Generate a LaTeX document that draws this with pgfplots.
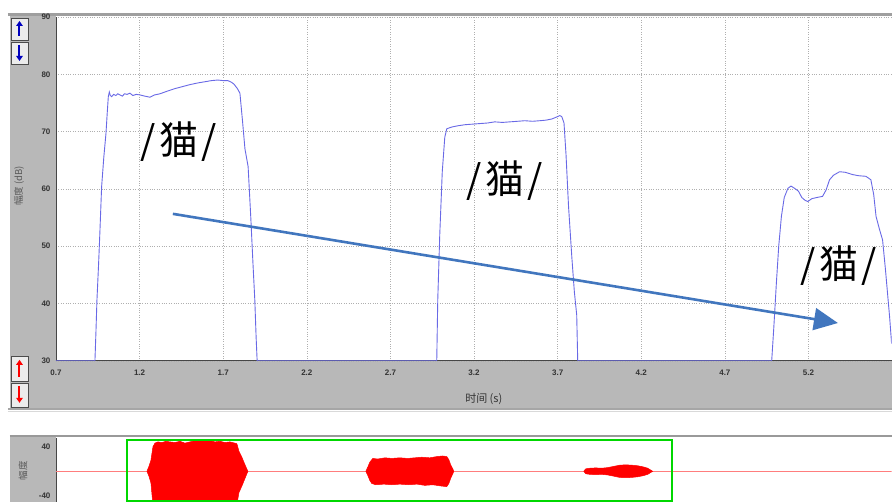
\documentclass[border=0pt]{standalone}
\usepackage{fontspec}
\setmainfont{Liberation Sans}
\newfontfamily\cjk{Noto Sans CJK SC}
\usepackage{pgfplots}
\pgfplotsset{compat=1.18}
\usetikzlibrary{arrows.meta}
\definecolor{panel}{RGB}{184,184,184}
\definecolor{curve}{RGB}{105,105,230}
\definecolor{arrowblue}{RGB}{65,118,190}
\definecolor{wave}{RGB}{255,0,0}
\definecolor{pinkline}{RGB}{255,125,125}
\definecolor{boxgreen}{RGB}{0,215,0}
\definecolor{gridgray}{RGB}{175,175,175}
\newcommand{\cat}{/\hspace{4pt}猫\hspace{3pt}/}
\begin{document}
\begin{tikzpicture}
\begin{scope}[x=1pt,y=1pt]
\useasboundingbox (0,0) rectangle (892,502);
\fill[white] (0,0) rectangle (892,502);
% panels
\fill[panel] (10,92) rectangle (56,488);
\fill[panel] (10,92) rectangle (892,141);
\draw[line width=3pt, gray!75] (8,487.5) -- (892,487.5);
\draw[line width=1.5pt, gray!70] (8,93) -- (892,93);
\draw[line width=1pt, gray!30] (8,90.5) -- (892,90.5);
\fill[panel] (10,0) rectangle (56,67);
\draw[line width=2pt, gray!80] (10,65.5) -- (892,65.5);
% buttons
\filldraw[fill=gray!15, draw=gray!60!black] (11,462) rectangle (28,484);
\draw[blue!75!black, line width=2pt, -{Triangle[length=5pt,width=6.5pt]}] (19.5,466) -- (19.5,481);
\filldraw[fill=gray!15, draw=gray!60!black] (11,438) rectangle (28,460);
\draw[blue!75!black, line width=2pt, -{Triangle[length=5pt,width=6.5pt]}] (19.5,457) -- (19.5,441);
\filldraw[fill=gray!15, draw=gray!60!black] (11,121) rectangle (28,146);
\draw[red, line width=2pt, -{Triangle[length=5pt,width=6.5pt]}] (19.5,125) -- (19.5,142);
\filldraw[fill=gray!15, draw=gray!60!black] (11,95) rectangle (28,119);
\draw[red, line width=2pt, -{Triangle[length=5pt,width=6.5pt]}] (19.5,116) -- (19.5,99);
% labels
\node[rotate=90, font=\cjk\fontsize{9.5}{10}\selectfont, text=black!65] at (19,316) {幅度 (dB)};
\node[rotate=90, font=\cjk\fontsize{9.5}{10}\selectfont, text=black!65] at (23,31) {幅度};
\node[font=\cjk\fontsize{11}{12}\selectfont, text=black!80] at (484,103) {时间 (s)};
\end{scope}

\begin{axis}[at={(56pt,141pt)}, anchor=south west, scale only axis,
  width=836pt, height=344pt,
  xmin=0.7, xmax=5.697, ymin=30, ymax=90,
  axis x line*=bottom, axis y line*=left,
  xtick={0.7,1.2,1.7,2.2,2.7,3.2,3.7,4.2,4.7,5.2},
  xticklabels={0.7,1.2,1.7,2.2,2.7,3.2,3.7,4.2,4.7,5.2},
  ytick={30,40,50,60,70,80,90},
  yticklabels={30,40,50,60,70,80,90},
  grid=major, major grid style={gridgray, dotted, line width=0.6pt},
  major tick style={draw=none},
  axis line style={draw=gray!55!black, line width=0.8pt},
  ticklabel style={font=\fontsize{8}{9}\selectfont\bfseries, text=black!80},
  xticklabel style={yshift=-6pt},
  yticklabel style={xshift=-2pt},
]
\addplot[curve, line width=0.9pt, mark=none] coordinates {
(0.700,30)(0.933,30)(0.939,35)(0.945,40.6)(0.955,47)(0.962,52)(0.973,60.4)(0.986,65.5)(0.999,69.7)(1.007,73.5)(1.013,76.1)(1.019,76.9)(1.025,76.3)(1.033,76.1)(1.045,76.5)(1.058,76.3)(1.070,76.6)(1.083,76.4)(1.097,76.2)(1.110,76.6)(1.125,76.5)(1.142,76.7)(1.160,76.3)(1.180,76.5)(1.202,76.4)(1.230,76.2)(1.262,76.0)(1.290,76.4)(1.322,76.6)(1.360,77.0)(1.411,77.5)(1.450,77.8)(1.501,78.2)(1.550,78.5)(1.591,78.7)(1.630,78.9)(1.668,79.0)(1.700,78.9)(1.728,78.9)(1.750,78.6)(1.764,78.3)(1.785,77.5)(1.800,76.7)(1.815,72.0)(1.830,67.0)(1.849,63.9)(1.865,55.0)(1.878,47.0)(1.889,40.6)(1.897,34.0)(1.903,30)
(2.977,30)(2.983,40.6)(2.995,52.0)(3.010,63.0)(3.025,69.0)(3.037,70.5)(3.067,70.8)(3.100,71.0)(3.145,71.2)(3.190,71.3)(3.234,71.4)(3.280,71.5)(3.324,71.7)(3.370,71.6)(3.414,71.7)(3.460,71.8)(3.503,71.9)(3.550,71.8)(3.593,71.9)(3.630,72.0)(3.665,72.2)(3.690,72.5)(3.713,72.8)(3.725,72.6)(3.738,71.5)(3.750,66.0)(3.765,57.0)(3.785,48.0)(3.800,42.0)(3.814,38.0)(3.820,30)
(4.980,30)(4.993,36.0)(5.008,43.6)(5.022,50.0)(5.038,55.2)(5.055,58.5)(5.077,60.1)(5.095,60.5)(5.117,60.1)(5.140,59.6)(5.160,58.5)(5.180,58.0)(5.196,57.8)(5.220,58.3)(5.250,58.5)(5.284,58.7)(5.305,59.8)(5.326,61.6)(5.350,62.4)(5.386,63.0)(5.420,62.9)(5.464,62.5)(5.500,62.3)(5.543,62.2)(5.573,61.6)(5.590,59.0)(5.604,55.2)(5.624,53.0)(5.643,51.1)(5.660,46.0)(5.675,41.0)(5.685,37.7)(5.697,33.0)
};
\draw[arrowblue, line width=2.6pt, -{Triangle[length=24pt,width=22pt]}] (axis cs:1.399,55.65) -- (axis cs:5.376,36.6);
\node[font=\cjk\fontsize{39}{40}\selectfont, inner sep=0pt] at (axis cs:1.435,68.2) {\cat};
\node[font=\cjk\fontsize{39}{40}\selectfont, inner sep=0pt] at (axis cs:3.384,61.4) {\cat};
\node[font=\cjk\fontsize{39}{40}\selectfont, inner sep=0pt] at (axis cs:5.38,46.6) {\cat};
\end{axis}

\begin{axis}[at={(56pt,0pt)}, anchor=south west, scale only axis,
  width=836pt, height=64pt,
  xmin=56, xmax=892, ymin=-49.8, ymax=54.7,
  axis x line=none, axis y line*=left,
  xtick=\empty, ytick={-40,40}, yticklabels={-40,40},
  major tick style={draw=none},
  axis line style={draw=gray!55!black, line width=0.8pt},
  ticklabel style={font=\fontsize{8}{9}\selectfont\bfseries, text=black!80},
  yticklabel style={xshift=-2pt},
]
\addplot[draw=pinkline, line width=1pt, mark=none] coordinates {(56,0)(892,0)};
\addplot[fill=wave, draw=wave, line width=0.5pt, mark=none] coordinates {
(147,0)(149,8)(151,18)(153,40)(155,46)(158,48)(162,47)(166,49)(170,48)(175,47)(180,49)(185,46)(190,48)(195,50)(200,51)(205,49)(210,50)(215,48)(220,49)(225,47)(230,48)(235,46)(237,45)(239,33)(242,23)(245,11)(248,0)
(245,-12)(242,-24)(239,-35)(237,-55)(200,-55)(153,-55)(151,-19)(149,-8)(147,0)};
\addplot[fill=wave, draw=wave, line width=0.5pt, mark=none] coordinates {
(366,0)(368,7)(370,15)(373,21)(378,20)(385,22)(392,21)(400,22)(408,21)(415,22)(422,23)(430,22)(437,24)(443,25)(447,24)(449,19)(451,10)(453,4)(454,0)
(453,-4)(451,-11)(449,-20)(447,-25)(441,-24)(433,-22)(425,-23)(417,-21)(409,-22)(400,-21)(392,-22)(384,-21)(376,-22)(372,-20)(370,-15)(368,-7)(366,0)};
\addplot[fill=wave, draw=wave, line width=0.5pt, mark=none] coordinates {
(584,0)(586,4)(590,5)(596,5.5)(602,5)(608,6)(614,8)(620,10)(626,10.5)(632,10)(638,9)(644,7)(648,5)(651,2)(653,0)
(651,-2)(648,-5)(644,-7)(638,-9)(632,-10)(626,-10.5)(620,-10)(614,-8)(608,-6)(602,-5)(596,-5.5)(590,-5)(586,-4)(584,0)};
\draw[boxgreen, line width=2pt] (axis cs:127,-49.3) rectangle (axis cs:672,51);
\end{axis}
\end{tikzpicture}
\end{document}
